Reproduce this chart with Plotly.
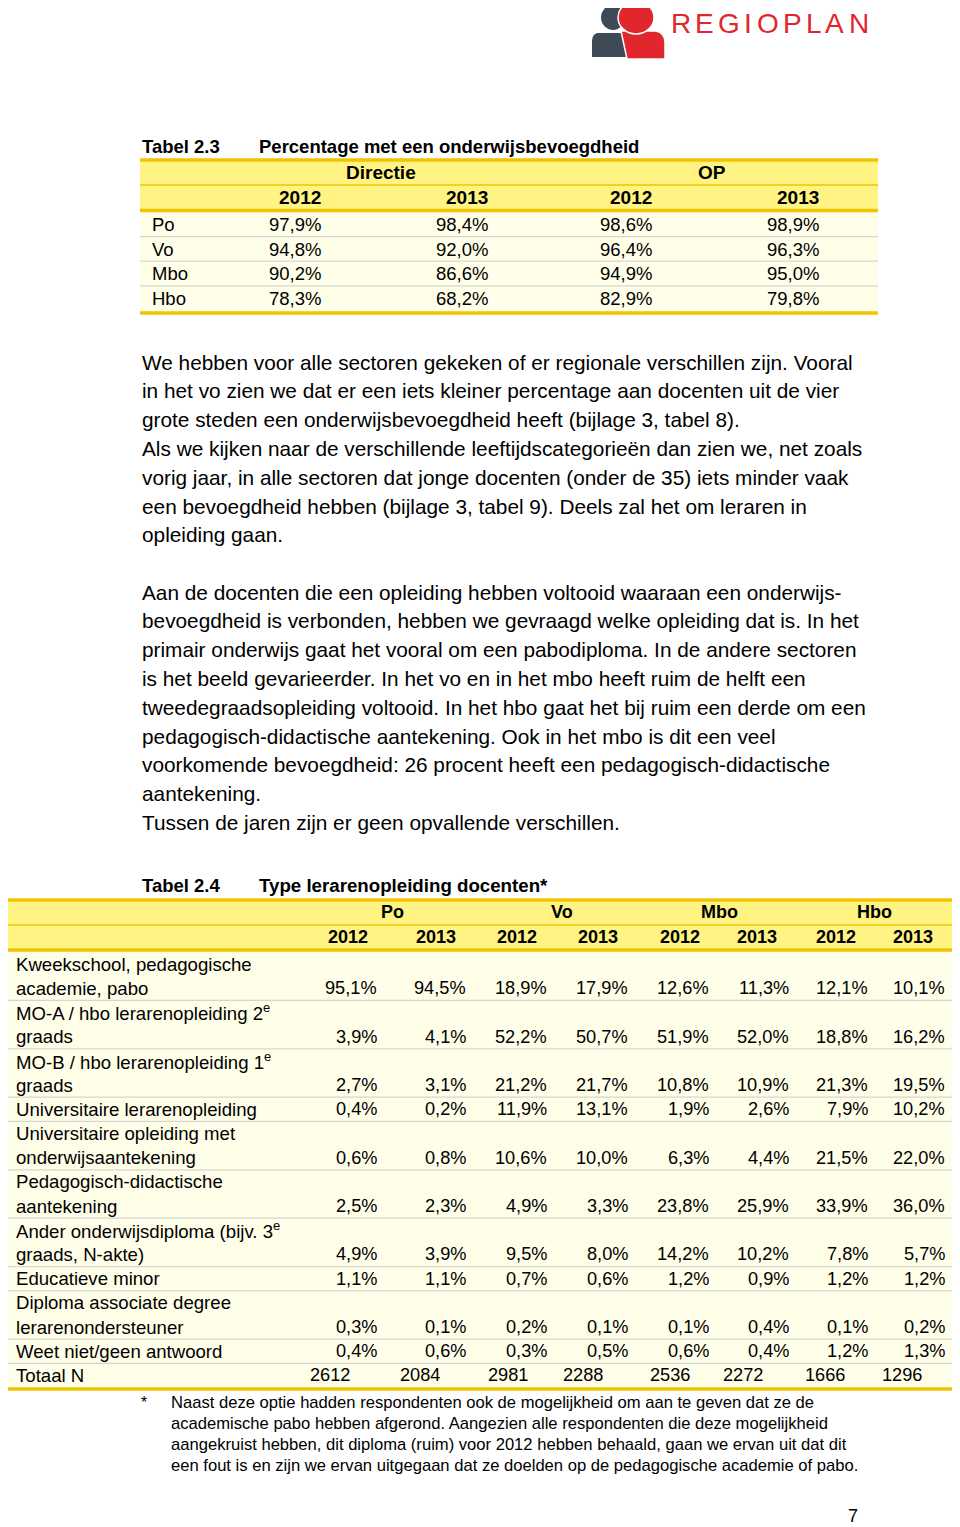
import plotly.graph_objects as go

# ---------------- data ----------------
t23_rows = ["Po", "Vo", "Mbo", "Hbo"]
t23_groups = ["Directie", "OP"]
t23_years = ["2012", "2013", "2012", "2013"]
t23_directie_2012 = [97.9, 94.8, 90.2, 78.3]
t23_directie_2013 = [98.4, 92.0, 86.6, 68.2]
t23_op_2012 = [98.6, 96.4, 94.9, 82.9]
t23_op_2013 = [98.9, 96.3, 95.0, 79.8]

t24_groups = ["Po", "Vo", "Mbo", "Hbo"]
t24_years = ["2012", "2013", "2012", "2013", "2012", "2013", "2012", "2013"]
t24_labels = [
    ["Kweekschool, pedagogische", "academie, pabo"],
    ["MO-A / hbo lerarenopleiding 2<sup>e</sup>", "graads"],
    ["MO-B / hbo lerarenopleiding 1<sup>e</sup>", "graads"],
    ["Universitaire lerarenopleiding"],
    ["Universitaire opleiding met", "onderwijsaantekening"],
    ["Pedagogisch-didactische", "aantekening"],
    ["Ander onderwijsdiploma (bijv. 3<sup>e</sup>", "graads, N-akte)"],
    ["Educatieve minor"],
    ["Diploma associate degree", "lerarenondersteuner"],
    ["Weet niet/geen antwoord"],
]
po_2012 = [95.1, 3.9, 2.7, 0.4, 0.6, 2.5, 4.9, 1.1, 0.3, 0.4]
po_2013 = [94.5, 4.1, 3.1, 0.2, 0.8, 2.3, 3.9, 1.1, 0.1, 0.6]
vo_2012 = [18.9, 52.2, 21.2, 11.9, 10.6, 4.9, 9.5, 0.7, 0.2, 0.3]
vo_2013 = [17.9, 50.7, 21.7, 13.1, 10.0, 3.3, 8.0, 0.6, 0.1, 0.5]
mbo_2012 = [12.6, 51.9, 10.8, 1.9, 6.3, 23.8, 14.2, 1.2, 0.1, 0.6]
mbo_2013 = [11.3, 52.0, 10.9, 2.6, 4.4, 25.9, 10.2, 0.9, 0.4, 0.4]
hbo_2012 = [12.1, 18.8, 21.3, 7.9, 21.5, 33.9, 7.8, 1.2, 0.1, 1.2]
hbo_2013 = [10.1, 16.2, 19.5, 10.2, 22.0, 36.0, 5.7, 1.2, 0.2, 1.3]
totaal_label = "Totaal N"
totaal_n = [2612, 2084, 2981, 2288, 2536, 2272, 1666, 1296]

para1 = [
    "We hebben voor alle sectoren gekeken of er regionale verschillen zijn. Vooral",
    "in het vo zien we dat er een iets kleiner percentage aan docenten uit de vier",
    "grote steden een onderwijsbevoegdheid heeft (bijlage 3, tabel 8).",
    "Als we kijken naar de verschillende leeftijdscategorieën dan zien we, net zoals",
    "vorig jaar, in alle sectoren dat jonge docenten (onder de 35) iets minder vaak",
    "een bevoegdheid hebben (bijlage 3, tabel 9). Deels zal het om leraren in",
    "opleiding gaan.",
]
para2 = [
    "Aan de docenten die een opleiding hebben voltooid waaraan een onderwijs-",
    "bevoegdheid is verbonden, hebben we gevraagd welke opleiding dat is. In het",
    "primair onderwijs gaat het vooral om een pabodiploma. In de andere sectoren",
    "is het beeld gevarieerder. In het vo en in het mbo heeft ruim de helft een",
    "tweedegraadsopleiding voltooid. In het hbo gaat het bij ruim een derde om een",
    "pedagogisch-didactische aantekening. Ook in het mbo is dit een veel",
    "voorkomende bevoegdheid: 26 procent heeft een pedagogisch-didactische",
    "aantekening.",
    "Tussen de jaren zijn er geen opvallende verschillen.",
]
footnote = [
    "Naast deze optie hadden respondenten ook de mogelijkheid om aan te geven dat ze de",
    "academische pabo hebben afgerond. Aangezien alle respondenten die deze mogelijkheid",
    "aangekruist hebben, dit diploma (ruim) voor 2012 hebben behaald, gaan we ervan uit dat dit",
    "een fout is en zijn we ervan uitgegaan dat ze doelden op de pedagogische academie of pabo.",
]
logo_text = "REGIOPLAN"
page_number = "7"

# ---------------- styling ----------------
W, H = 960, 1527
OFF = 8  # page body margin: figure starts 8px from the page's top-left
GOLD = "#F2C300"
HEAD_BG = "#FFF383"
BODY_BG = "#FFFEE9"
GRID = "#D6D6CE"
RED = "#E1262D"
DARK = "#3E4B57"
FONT = "Liberation Sans, Arial, sans-serif"
# approximate cap widths (em) used only to space the logo letters
LOGO_W = {"R": .722, "E": .667, "G": .778, "I": .278, "O": .778, "P": .667,
          "L": .556, "A": .667, "N": .722}
PAD = 1.5  # compensate annotation inner padding


def pct(v):
    return f"{v:.1f}%".replace(".", ",")


fig = go.Figure()
fig.add_trace(go.Scatter(x=[OFF + 1, W - 1], y=[OFF + 1, H - 1], mode="markers",
                         marker=dict(opacity=0, size=1), hoverinfo="skip", showlegend=False))


def txt(x, y, s, size=18, anchor="left", bold=False, color="black", family=FONT):
    if anchor == "left":
        x -= PAD
    elif anchor == "right":
        x += PAD
    fig.add_annotation(x=x, y=y, xref="x", yref="y", text=(f"<b>{s}</b>" if bold else s),
                       showarrow=False, xanchor=anchor, yanchor="middle", borderpad=0,
                       font=dict(family=family, size=size, color=color))


def rect(x0, y0, x1, y1, color):
    fig.add_shape(type="rect", x0=x0, x1=x1, y0=y0, y1=y1, xref="x", yref="y",
                  fillcolor=color, line=dict(width=0), layer="below")


def hline(x0, x1, y, color, w):
    fig.add_shape(type="line", x0=x0, x1=x1, y0=y, y1=y, xref="x", yref="y",
                  line=dict(color=color, width=w), layer="below")


# ---------------- logo ----------------
fig.add_shape(type="path", path="M 597,33 Q 592,35 592,41 L 592,57 L 630,57 L 630,33 Z",
              fillcolor=DARK, line=dict(width=0), xref="x", yref="y")
fig.add_shape(type="circle", x0=601, x1=625, y0=5, y1=30, fillcolor=DARK,
              line=dict(width=0), xref="x", yref="y")
fig.add_shape(type="path", path="M 621,31 L 656,31 Q 665,33 665,42 L 665,59 L 627,59 Z",
              fillcolor=RED, line=dict(color="white", width=1.5), xref="x", yref="y")
fig.add_shape(type="circle", x0=618, x1=654, y0=1, y1=34, fillcolor=RED,
              line=dict(color="white", width=1.5), xref="x", yref="y")
LOGO_SIZE, LOGO_GAP = 28, 4.3
lx = 671
for ch in logo_text:
    w = LOGO_W[ch] * LOGO_SIZE
    txt(lx + w / 2, 23, ch, size=LOGO_SIZE, anchor="center", color=RED)
    lx += w + LOGO_GAP

# ---------------- table 2.3 ----------------
T3X0, T3X1 = 140, 878
txt(142, 146, "Tabel 2.3", size=18.5, bold=True)
txt(259, 146, "Percentage met een onderwijsbevoegdheid", size=18.5, bold=True)
rect(T3X0, 160, T3X1, 210, HEAD_BG)
rect(T3X0, 210, T3X1, 313, BODY_BG)
hline(T3X0, T3X1, 160, GOLD, 3.5)
hline(T3X0, T3X1, 185, GOLD, 1.5)
hline(T3X0, T3X1, 210.5, GOLD, 3.5)
row_h3 = 24.6
for i in range(1, len(t23_rows)):
    hline(T3X0, T3X1, 212 + i * row_h3, GRID, 1.2)
hline(T3X0, T3X1, 313, GOLD, 3.5)

t3_right = [320, 487, 651, 818]
t3_group_c = [381, 712]
for g, c in zip(t23_groups, t3_group_c):
    txt(c, 172, g, size=19, anchor="center", bold=True)
for yname, r in zip(t23_years, t3_right):
    txt(r, 197, yname, size=19, anchor="right", bold=True)
cols3 = [t23_directie_2012, t23_directie_2013, t23_op_2012, t23_op_2013]
for i, lab in enumerate(t23_rows):
    yc = 224.5 + i * row_h3
    txt(152, yc, lab, size=18.5)
    for col, r in zip(cols3, t3_right):
        txt(r, yc, pct(col[i]), size=18.5, anchor="right")

# ---------------- paragraphs ----------------
LH = 28.8
for i, line in enumerate(para1):
    txt(142, 362 + i * LH, line, size=20.8)
for i, line in enumerate(para2):
    txt(142, 592 + i * LH, line, size=20.8)

# ---------------- table 2.4 ----------------
T4X0, T4X1 = 8, 952
txt(142, 885, "Tabel 2.4", size=18.5, bold=True)
txt(259, 885, "Type lerarenopleiding docenten*", size=18.7, bold=True)
rect(T4X0, 900, T4X1, 950, HEAD_BG)
hline(T4X0, T4X1, 900, GOLD, 3.5)
hline(T4X0, T4X1, 925, GOLD, 1.5)
hline(T4X0, T4X1, 950, GOLD, 3.5)

t4_right = [376, 465, 546, 627, 708, 788, 867, 944]
t4_year_c = [348, 436, 517, 598, 680, 757, 836, 913]
t4_group_c = [392, 562, 719, 874]
t4_total_left = [310, 400, 488, 563, 650, 723, 805, 882]
for g, c in zip(t24_groups, t4_group_c):
    txt(c, 912, g, size=18, anchor="center", bold=True)
for yname, c in zip(t24_years, t4_year_c):
    txt(c, 937, yname, size=18, anchor="center", bold=True)

cols4 = [po_2012, po_2013, vo_2012, vo_2013, mbo_2012, mbo_2013, hbo_2012, hbo_2013]
LINE4 = 24.2
y = 952
n_lines = sum(len(l) for l in t24_labels) + 1
rect(T4X0, 952, T4X1, 952 + n_lines * LINE4, BODY_BG)
for i, lab_lines in enumerate(t24_labels):
    for k, ln in enumerate(lab_lines):
        txt(16, y + 12 + k * LINE4, ln, size=18.6)
    yv = y + 12 + (len(lab_lines) - 1) * LINE4
    for col, r in zip(cols4, t4_right):
        txt(r, yv, pct(col[i]), size=18.2, anchor="right")
    y += len(lab_lines) * LINE4
    hline(T4X0, T4X1, y, GRID, 1.2)
txt(16, y + 12, totaal_label, size=18.6)
for v, xl in zip(totaal_n, t4_total_left):
    txt(xl, y + 12, str(v), size=18.2)
y += LINE4
hline(T4X0, T4X1, y + 1.5, GOLD, 3.5)

# ---------------- footnote ----------------
txt(141, 1402, "*", size=16)
for i, line in enumerate(footnote):
    txt(171, 1402 + i * 21.3, line, size=16.6)
txt(853, 1515.5, page_number, size=18, anchor="center")

fig.update_layout(
    width=W - OFF, height=H - OFF, margin=dict(l=0, r=0, t=0, b=0),
    paper_bgcolor="white", plot_bgcolor="white", showlegend=False,
    xaxis=dict(range=[OFF, W], visible=False, fixedrange=True),
    yaxis=dict(range=[H, OFF], visible=False, fixedrange=True),
)
fig.write_html("out.html")
